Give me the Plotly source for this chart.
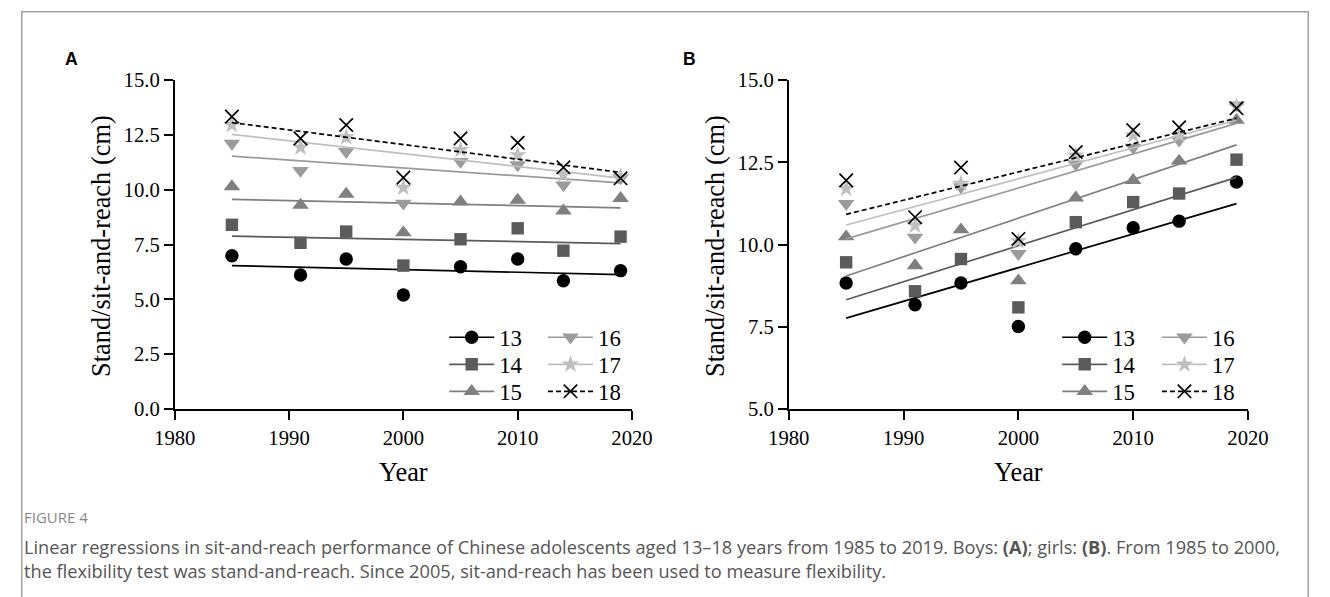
import numpy as np
import plotly.graph_objects as go

W, H = 1330, 597

years = [1985, 1991, 1995, 2000, 2005, 2010, 2014, 2019]
ages = ["13", "14", "15", "16", "17", "18"]

boys_13 = [6.99, 6.11, 6.84, 5.20, 6.49, 6.84, 5.85, 6.31]
boys_14 = [8.40, 7.58, 8.09, 6.54, 7.74, 8.24, 7.22, 7.86]
boys_15 = [10.14, 9.30, 9.80, 8.04, 9.45, 9.53, 9.04, 9.61]
boys_16 = [12.11, 10.87, 11.73, 9.38, 11.28, 11.13, 10.21, 10.53]
boys_17 = [12.95, 11.93, 12.39, 10.09, 11.81, 11.58, 10.67, 10.59]
boys_18 = [13.33, 12.34, 12.95, 10.55, 12.34, 12.14, 11.02, 10.52]

girls_13 = [8.83, 8.17, 8.83, 7.51, 9.87, 10.51, 10.71, 11.90]
girls_14 = [9.46, 8.58, 9.56, 8.09, 10.68, 11.29, 11.55, 12.58]
girls_15 = [10.24, 9.36, 10.45, 8.90, 11.42, 11.95, 12.54, 13.78]
girls_16 = [11.24, 10.22, 11.75, 9.72, 12.44, 12.95, 13.17, 14.24]
girls_17 = [11.70, 10.58, 11.85, 10.10, 12.71, 13.32, 13.32, 14.19]
girls_18 = [11.95, 10.83, 12.34, 10.17, 12.81, 13.48, 13.56, 14.14]

x_ticks = [1980, 1990, 2000, 2010, 2020]
ya_ticks = [0.0, 2.5, 5.0, 7.5, 10.0, 12.5, 15.0]
yb_ticks = [5.0, 7.5, 10.0, 12.5, 15.0]

boys = [boys_13, boys_14, boys_15, boys_16, boys_17, boys_18]
girls = [girls_13, girls_14, girls_15, girls_16, girls_17, girls_18]

# ---- placement helpers (target picture pixels -> paper coords) ----
AX, BX = 0.970, 19.0
AY, BY = 0.963, 11.0
FS = 1 / 0.967


def X(r):
    return ((r - BX) / AX) / W


def Y(r):
    return 1 - ((r - BY) / AY) / H


def f(s):
    return round(s * FS, 1)


# styles
symbols = ["circle", "square", "triangle-up", "triangle-down", "star", "x-thin-open"]
msizes = [13, 12, 14, 14, 13, 13]
colors = ["#000000", "#5b5b5b", "#808080", "#9b9b9b", "#bfbfbf", "#000000"]
dashes = ["solid", "solid", "solid", "solid", "solid", "5px,3px"]

SERIF = "Liberation Serif, Times New Roman, serif"
SANS = "Open Sans, sans-serif"

fig = go.Figure()

leg_cols_a = [437, 539]
leg_cols_b = [1070, 1173]
leg_tops = [316.6, 344.7, 372.7]

legend_layouts = {}
leg_idx = 0
panels = [(boys, "x", "y", leg_cols_a), (girls, "x2", "y2", leg_cols_b)]
for data, xa, ya, cols in panels:
    for i, vals in enumerate(data):
        marker = dict(symbol=symbols[i], size=f(msizes[i]), color=colors[i])
        if symbols[i] == "x-thin-open":
            marker["line"] = dict(color=colors[i], width=1.7)
        k, b = np.polyfit(years, vals, 1)
        xr = np.array([years[0], years[-1]])
        fig.add_trace(go.Scatter(
            x=xr, y=k * xr + b, mode="lines", xaxis=xa, yaxis=ya,
            line=dict(color=colors[i], width=1.7, dash=dashes[i]),
            showlegend=False, hoverinfo="skip"))
        fig.add_trace(go.Scatter(
            x=years, y=vals, mode="markers", xaxis=xa, yaxis=ya,
            marker=marker, showlegend=False, cliponaxis=False))
    for i in range(6):
        marker = dict(symbol=symbols[i], size=f(msizes[i]), color=colors[i])
        if symbols[i] == "x-thin-open":
            marker["line"] = dict(color=colors[i], width=1.7)
        leg_idx += 1
        lname = "legend" if leg_idx == 1 else f"legend{leg_idx}"
        legend_layouts[lname] = dict(
            x=cols[i // 3] / W, y=1 - leg_tops[i % 3] / H, xanchor="left", yanchor="top",
            font=dict(family=SERIF, size=f(22), color="black"), bgcolor="rgba(0,0,0,0)",
            itemwidth=45)
        fig.add_trace(go.Scatter(
            x=[None], y=[None], mode="lines+markers", xaxis=xa, yaxis=ya,
            name=ages[i], marker=marker,
            line=dict(color=colors[i], width=1.7, dash=dashes[i]),
            legend=lname, showlegend=True))

axis_common = dict(
    showline=True, linecolor="black", linewidth=1.7, ticks="outside",
    ticklen=9, tickwidth=1.7, tickcolor="black", showgrid=False, zeroline=False,
    tickfont=dict(family=SERIF, size=f(20), color="black"),
)

fig.update_layout(
    autosize=True, margin=dict(l=0, r=0, t=0, b=0),
    paper_bgcolor="white", plot_bgcolor="white",
    xaxis=dict(domain=[X(173), X(631)], range=[1980, 2020], tickvals=x_ticks, anchor="y", **axis_common),
    yaxis=dict(domain=[Y(409), Y(80)], range=[0, 15], tickvals=ya_ticks, tickformat=".1f", anchor="x",
               **axis_common),
    xaxis2=dict(domain=[X(788), X(1248)], range=[1980, 2020], tickvals=x_ticks, anchor="y2", **axis_common),
    yaxis2=dict(domain=[Y(409), Y(80)], range=[5, 15], tickvals=yb_ticks, tickformat=".1f", anchor="x2",
                **axis_common),
    showlegend=True,
)
fig.update_layout(**legend_layouts)

title_font = dict(family=SERIF, size=f(25.5), color="black")


def ann(text, x, y, font, xanchor="center", yanchor="middle", **kw):
    d = dict(text=text, x=x, y=y, xref="paper", yref="paper", showarrow=False, font=font,
             xanchor=xanchor, yanchor=yanchor)
    d.update(kw)
    return d


caption = ("Linear regressions in sit-and-reach performance of Chinese adolescents aged 13–18 years "
           "from 1985 to 2019. Boys: <b>(A)</b>; girls: <b>(B)</b>. From 1985 to 2000,<br>"
           "the flexibility test was stand-and-reach. Since 2005, sit-and-reach has been used to "
           "measure flexibility.")

label_font = dict(family="Liberation Sans, Arial, sans-serif", size=f(17), color="black")
annotations = [
    ann("<b>A</b>", X(70), Y(59), label_font),
    ann("<b>B</b>", X(689), Y(59), label_font),
    ann("Stand/sit-and-reach (cm)", X(99), Y(246), title_font, textangle=-90),
    ann("Stand/sit-and-reach (cm)", X(714), Y(246), title_font, textangle=-90),
    ann("Year", X(402), Y(472), title_font),
    ann("Year", X(1018), Y(472), title_font),
    ann("FIGURE 4", 1 / W, Y(517), dict(family=SANS, size=15, color="#888888"), xanchor="left"),
    ann(caption, 1 / W, Y(559), dict(family=SANS, size=18.2, color="#555555"), xanchor="left",
        align="left"),
]
fig.update_layout(annotations=annotations)

fig.add_shape(type="rect", xref="paper", yref="paper", x0=0.8 / W, x1=1 - 0.8 / W, y0=-0.1, y1=1 - 0.8 / H,
              line=dict(color="#a0a0a0", width=1.5), fillcolor="rgba(0,0,0,0)", layer="below")

fig.write_html(
    "out.html",
    config={"displayModeBar": False, "responsive": True},
    default_width="100vw", default_height="100vh",
    post_script="document.body.style.margin='0';document.body.style.overflow='hidden';",
)
